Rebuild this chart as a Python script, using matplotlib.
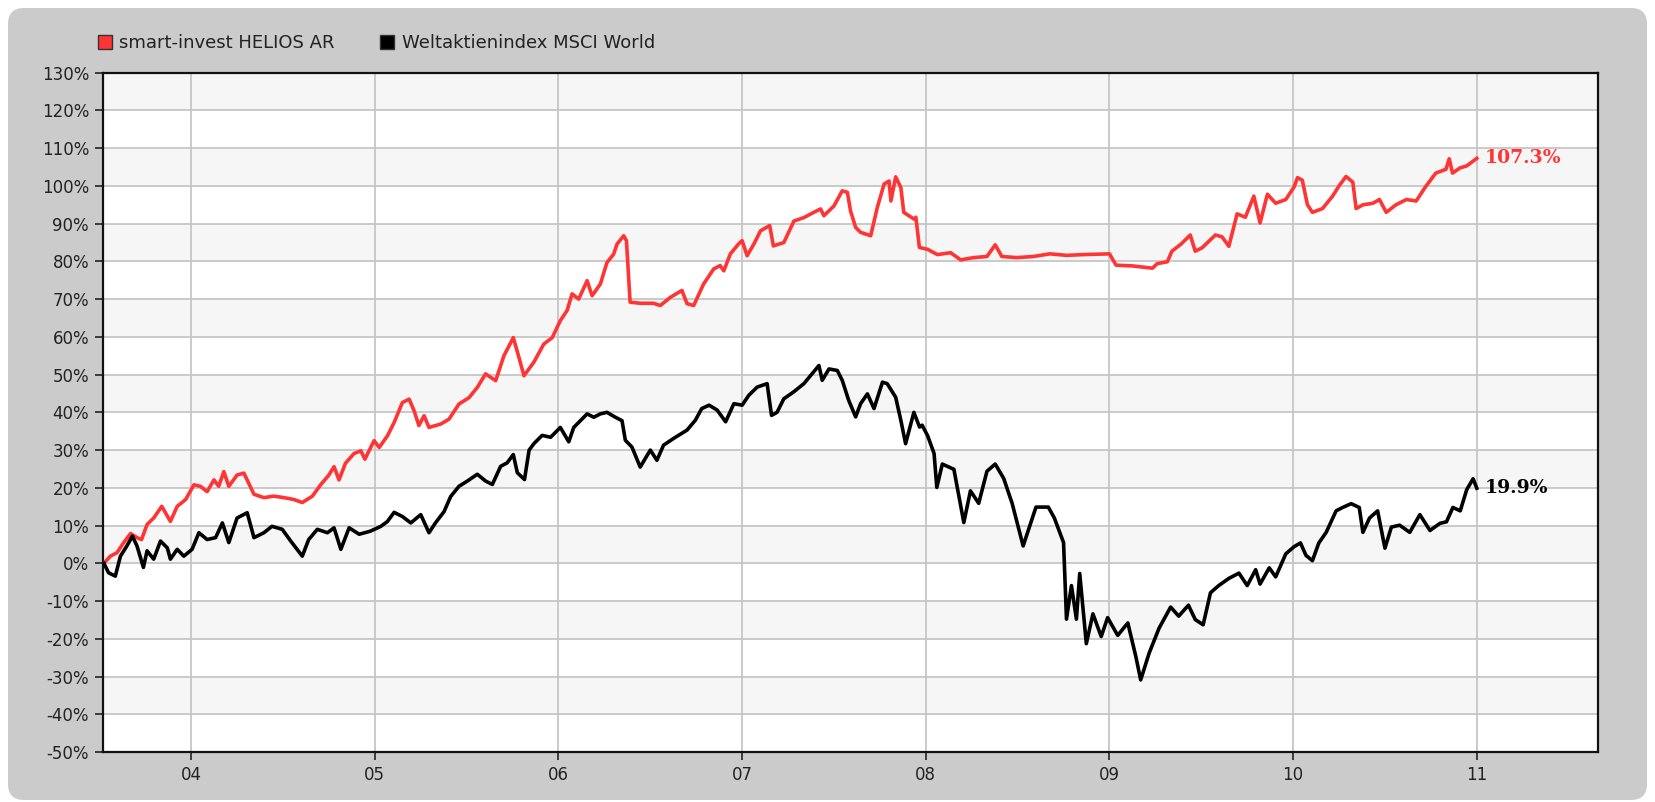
import matplotlib
import matplotlib.pyplot as plt
from matplotlib.patches import FancyBboxPatch
from matplotlib.lines import Line2D
from matplotlib.transforms import IdentityTransform

# -----------------------------
# Data (fractional year, performance in %)
# -----------------------------
series_names = ["smart-invest HELIOS AR", "Weltaktienindex MSCI World"]
series_colors = ["#ff3434", "#000000"]

helios_t = [
    2003.525, 2003.56, 2003.596, 2003.633, 2003.67, 2003.705, 2003.73, 2003.76, 2003.796, 2003.84,
    2003.887, 2003.924, 2003.97, 2004.015, 2004.05, 2004.087, 2004.124, 2004.15, 2004.178, 2004.205,
    2004.25, 2004.287, 2004.342, 2004.396, 2004.45, 2004.505, 2004.56, 2004.605, 2004.66, 2004.705,
    2004.75, 2004.778, 2004.805, 2004.84, 2004.887, 2004.924, 2004.946, 2004.996, 2005.024, 2005.069,
    2005.105, 2005.15, 2005.187, 2005.214, 2005.24, 2005.268, 2005.295, 2005.359, 2005.404, 2005.458,
    2005.513, 2005.558, 2005.603, 2005.658, 2005.703, 2005.754, 2005.785, 2005.812, 2005.866, 2005.92,
    2005.966, 2006.01, 2006.047, 2006.074, 2006.11, 2006.156, 2006.183, 2006.228, 2006.264, 2006.3,
    2006.319, 2006.355, 2006.37, 2006.39, 2006.445, 2006.518, 2006.554, 2006.61, 2006.672, 2006.7,
    2006.736, 2006.79, 2006.845, 2006.88, 2006.9, 2006.936, 2006.98, 2007.0, 2007.027, 2007.064,
    2007.1, 2007.15, 2007.17, 2007.227, 2007.282, 2007.336, 2007.39, 2007.427, 2007.445, 2007.5,
    2007.545, 2007.573, 2007.59, 2007.618, 2007.645, 2007.7, 2007.736, 2007.773, 2007.8, 2007.81,
    2007.836, 2007.864, 2007.88, 2007.936, 2007.946, 2007.965, 2008.01, 2008.063, 2008.135, 2008.19,
    2008.26, 2008.333, 2008.378, 2008.414, 2008.495, 2008.586, 2008.676, 2008.766, 2008.856, 2009.0,
    2009.036, 2009.126, 2009.234, 2009.26, 2009.315, 2009.34, 2009.39, 2009.44, 2009.467, 2009.504,
    2009.577, 2009.613, 2009.65, 2009.668, 2009.695, 2009.74, 2009.786, 2009.82, 2009.86, 2009.905,
    2009.96, 2010.005, 2010.024, 2010.05, 2010.078, 2010.105, 2010.16, 2010.215, 2010.25, 2010.288,
    2010.325, 2010.343, 2010.38, 2010.434, 2010.47, 2010.507, 2010.56, 2010.617, 2010.67, 2010.72,
    2010.777, 2010.832, 2010.85, 2010.868, 2010.91, 2010.945, 2011.0,
]
helios_v = [
    0.0, 1.9, 2.8, 5.5, 7.9, 6.8, 6.3, 10.3, 12.0, 15.1,
    11.1, 15.1, 16.9, 20.8, 20.4, 19.0, 22.1, 20.4, 24.3, 20.4,
    23.4, 23.9, 18.3, 17.4, 17.8, 17.4, 16.9, 16.1, 17.8, 20.8,
    23.4, 25.6, 22.1, 26.5, 29.1, 29.8, 27.6, 32.5, 30.7, 33.8,
    37.3, 42.6, 43.5, 40.4, 36.5, 39.1, 36.0, 36.9, 38.2, 42.2,
    43.9, 46.6, 50.2, 48.4, 55.0, 59.8, 54.5, 49.7, 53.3, 58.1,
    59.8, 64.3, 67.0, 71.4, 70.0, 74.9, 70.9, 74.0, 79.7, 81.9,
    84.6, 86.8, 85.5, 69.2, 68.9, 68.9, 68.3, 70.5, 72.3, 68.8,
    68.3, 74.0, 78.0, 78.9, 77.5, 82.0, 84.6, 85.5, 81.5, 84.6,
    88.1, 89.5, 84.1, 85.0, 90.7, 91.6, 93.0, 93.9, 92.1, 94.7,
    98.7, 98.3, 93.4, 89.0, 87.7, 86.8, 94.3, 100.5, 101.3, 96.0,
    102.4, 99.6, 93.0, 91.2, 91.7, 83.7, 83.2, 81.8, 82.3, 80.4,
    81.0, 81.3, 84.4, 81.3, 81.0, 81.3, 82.0, 81.6, 81.8, 82.0,
    79.0, 78.8, 78.2, 79.4, 79.9, 82.7, 84.6, 87.0, 82.7, 83.6,
    87.0, 86.5, 84.0, 87.4, 92.6, 91.7, 97.3, 90.2, 97.8, 95.4,
    96.4, 99.7, 102.2, 101.5, 95.0, 93.0, 94.0, 97.3, 100.0, 102.5,
    101.0, 94.0, 95.0, 95.4, 96.4, 93.0, 95.0, 96.4, 96.0, 99.7,
    103.4, 104.4, 107.2, 103.4, 104.8, 105.3, 107.3,
]

msci_t = [
    2003.525, 2003.55, 2003.587, 2003.615, 2003.65, 2003.68, 2003.705, 2003.74, 2003.76, 2003.796,
    2003.833, 2003.87, 2003.887, 2003.924, 2003.96, 2004.005, 2004.042, 2004.087, 2004.133, 2004.17,
    2004.205, 2004.25, 2004.305, 2004.342, 2004.396, 2004.44, 2004.496, 2004.542, 2004.605, 2004.64,
    2004.687, 2004.742, 2004.778, 2004.815, 2004.86, 2004.915, 2004.975, 2005.033, 2005.069, 2005.105,
    2005.15, 2005.196, 2005.25, 2005.295, 2005.33, 2005.377, 2005.413, 2005.458, 2005.504, 2005.558,
    2005.603, 2005.64, 2005.685, 2005.72, 2005.754, 2005.776, 2005.815, 2005.84, 2005.866, 2005.911,
    2005.957, 2006.01, 2006.056, 2006.083, 2006.156, 2006.192, 2006.228, 2006.264, 2006.31, 2006.346,
    2006.364, 2006.4, 2006.445, 2006.5, 2006.536, 2006.572, 2006.627, 2006.7, 2006.745, 2006.78,
    2006.82, 2006.864, 2006.91, 2006.955, 2007.0, 2007.036, 2007.082, 2007.136, 2007.16, 2007.19,
    2007.227, 2007.28, 2007.336, 2007.38, 2007.418, 2007.436, 2007.473, 2007.518, 2007.545, 2007.58,
    2007.618, 2007.645, 2007.682, 2007.718, 2007.764, 2007.79, 2007.836, 2007.864, 2007.89, 2007.935,
    2007.966, 2007.98, 2008.01, 2008.045, 2008.06, 2008.09, 2008.153, 2008.207, 2008.243, 2008.288,
    2008.333, 2008.378, 2008.424, 2008.47, 2008.53, 2008.568, 2008.6, 2008.667, 2008.7, 2008.75,
    2008.766, 2008.793, 2008.82, 2008.838, 2008.874, 2008.91, 2008.955, 2008.99, 2009.045, 2009.1,
    2009.144, 2009.17, 2009.216, 2009.27, 2009.333, 2009.377, 2009.43, 2009.467, 2009.51, 2009.55,
    2009.595, 2009.65, 2009.705, 2009.75, 2009.796, 2009.82, 2009.87, 2009.905, 2009.96, 2010.005,
    2010.04, 2010.07, 2010.105, 2010.14, 2010.18, 2010.234, 2010.27, 2010.316, 2010.36, 2010.38,
    2010.416, 2010.46, 2010.5, 2010.535, 2010.58, 2010.635, 2010.69, 2010.745, 2010.8, 2010.835,
    2010.87, 2010.91, 2010.945, 2010.98, 2011.0,
]
msci_v = [
    0.0, -2.5, -3.4, 1.9, 4.6, 7.2, 4.6, -1.1, 3.3, 1.1,
    5.9, 4.1, 1.1, 3.7, 1.9, 3.7, 8.1, 6.3, 6.8, 10.7,
    5.5, 12.0, 13.4, 6.8, 8.1, 9.8, 9.0, 5.9, 1.9, 6.3,
    9.0, 8.1, 9.4, 3.7, 9.4, 7.7, 8.5, 9.8, 11.1, 13.5,
    12.4, 10.7, 12.9, 8.1, 10.7, 13.7, 17.7, 20.4, 21.8, 23.6,
    21.8, 20.9, 25.7, 26.6, 28.8, 24.0, 22.2, 30.0, 31.7, 33.9,
    33.4, 36.0, 32.2, 36.0, 39.6, 38.7, 39.6, 40.0, 38.7, 37.8,
    32.6, 30.8, 25.5, 30.0, 27.3, 31.3, 33.1, 35.3, 37.9, 41.0,
    41.9, 40.6, 37.5, 42.3, 41.9, 44.5, 46.7, 47.6, 39.2, 40.0,
    43.6, 45.4, 47.6, 50.2, 52.4, 48.5, 51.5, 51.1, 48.5, 43.2,
    38.8, 42.3, 44.9, 41.0, 48.0, 47.6, 44.0, 37.9, 31.7, 40.0,
    36.1, 36.6, 33.8, 29.1, 20.1, 26.3, 24.9, 10.8, 19.2, 15.9,
    24.4, 26.3, 22.5, 15.9, 4.6, 10.2, 14.9, 14.9, 12.0, 5.5,
    -14.8, -5.9, -14.8, -2.7, -21.3, -13.4, -19.4, -14.4, -19.1, -15.8,
    -24.8, -30.9, -23.8, -17.2, -11.6, -14.0, -11.1, -14.9, -16.3, -7.8,
    -5.9, -4.0, -2.6, -5.9, -1.7, -5.5, -1.2, -3.6, 2.5, 4.4,
    5.4, 2.1, 0.7, 5.4, 8.2, 13.9, 14.8, 15.8, 14.8, 8.2,
    12.0, 13.9, 4.0, 9.6, 10.1, 8.2, 12.9, 8.7, 10.6, 11.0,
    14.8, 13.9, 19.5, 22.4, 19.9,
]

year_ticks = [2004, 2005, 2006, 2007, 2008, 2009, 2010, 2011]
year_labels = ["04", "05", "06", "07", "08", "09", "10", "11"]
pct_ticks = list(range(-50, 131, 10))

# -----------------------------
# Figure + grey rounded panel
# -----------------------------
W, H = 1655, 802
fig = plt.figure(figsize=(W / 100, H / 100), dpi=100)
fig.patch.set_facecolor("white")

panel = FancyBboxPatch(
    (8, 2), 1639, 792,
    boxstyle="round,pad=0,rounding_size=16",
    transform=IdentityTransform(),
    facecolor="#cbcbcb", edgecolor="none", zorder=-5,
)
fig.patches.append(panel)

ax = fig.add_axes([103 / W, (H - 752) / H, (1598 - 103) / W, (752 - 72.7) / H])
ax.set_facecolor("white")

# alternating horizontal bands
for lo in pct_ticks[:-1]:
    if ((lo + 50) // 10) % 2 == 1:
        ax.axhspan(lo, lo + 10, color="#f6f6f6", lw=0, zorder=0)

# -----------------------------
# Lines
# -----------------------------
ax.plot(helios_t, helios_v, color=series_colors[0], lw=2.6, zorder=3)
ax.plot(msci_t, msci_v, color=series_colors[1], lw=2.6, zorder=3)

# end labels
for t, v, c in [(helios_t, helios_v, series_colors[0]), (msci_t, msci_v, series_colors[1])]:
    ax.annotate(
        f"{v[-1]:.1f}%", xy=(t[-1], v[-1]), xytext=(8, 0), textcoords="offset pixels",
        ha="left", va="center", color=c, fontsize=13.5, fontweight="bold",
        family="DejaVu Serif", zorder=4,
    )

# -----------------------------
# Axes formatting
# -----------------------------
ax.set_xlim(2003.52, 2011.66)
ax.set_ylim(-50, 130)
ax.set_xticks(year_ticks)
ax.set_xticklabels(year_labels)
ax.set_yticks(pct_ticks)
ax.set_yticklabels([f"{p}%" for p in pct_ticks])

ax.grid(True, color="#c6c6c6", lw=1.3)
ax.set_axisbelow(True)
ax.tick_params(direction="out", length=6, width=1.2, color="#222222",
               labelsize=12, labelcolor="#222222", pad=4)
for s in ax.spines.values():
    s.set_color("#111111")
    s.set_linewidth(1.6)

# legend above plot area
handles = [
    Line2D([], [], marker="s", ls="none", markersize=10,
           markerfacecolor=c, markeredgecolor="#333333", markeredgewidth=1)
    for c in series_colors
]
leg = fig.legend(
    handles, series_names, loc="center left", bbox_to_anchor=(96 / W, 1 - 43 / H),
    ncol=2, frameon=False, fontsize=13, handlelength=1.0, handletextpad=0.3,
    columnspacing=2.4, borderpad=0, borderaxespad=0,
)
for txt in leg.get_texts():
    txt.set_color("#222222")

fig.savefig("out.png", dpi=100)
plt.close(fig)
